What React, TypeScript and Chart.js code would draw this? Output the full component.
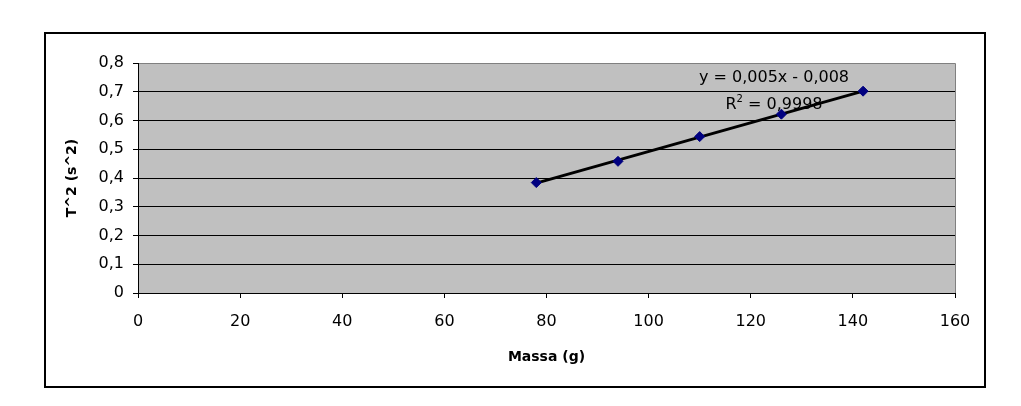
import React, { useEffect, useRef } from "react";
import { Chart, registerables } from "chart.js";

Chart.register(...registerables);

// Pendulum-style data: mass (g) against period squared (s^2)
const massa = [78, 94, 110, 126, 142];
const periodoQuadrado = [0.384, 0.458, 0.544, 0.622, 0.702];

// Axis tick labels (decimal comma)
const xTickLabels = ["0", "20", "40", "60", "80", "100", "120", "140", "160"];
const yTickLabels = ["0", "0,1", "0,2", "0,3", "0,4", "0,5", "0,6", "0,7", "0,8"];

// Linear trendline as printed on the chart
const trendSlope = 0.005;
const trendIntercept = -0.008;
const trendEquation = "y = 0,005x - 0,008";
const trendR2 = "0,9998";

const xTitle = "Massa (g)";
const yTitle = "T^2 (s^2)";

const FONT = "'DejaVu Sans', 'Liberation Sans', Arial, sans-serif";

const framePlugin = {
  id: "frameAndPlotArea",
  beforeDraw(chart: any) {
    const { ctx, chartArea } = chart;
    ctx.save();
    ctx.fillStyle = "#ffffff";
    ctx.fillRect(0, 0, chart.width, chart.height);
    // outer chart border
    ctx.strokeStyle = "#000000";
    ctx.lineWidth = 2;
    ctx.strokeRect(45, 33, 940, 354);
    // plot area fill and grey edge
    ctx.fillStyle = "#c0c0c0";
    ctx.fillRect(chartArea.left, chartArea.top, chartArea.right - chartArea.left, chartArea.bottom - chartArea.top);
    ctx.strokeStyle = "#808080";
    ctx.lineWidth = 1;
    ctx.beginPath();
    ctx.moveTo(chartArea.left, Math.round(chartArea.top) + 0.5);
    ctx.lineTo(Math.round(chartArea.right) + 0.5, Math.round(chartArea.top) + 0.5);
    ctx.lineTo(Math.round(chartArea.right) + 0.5, chartArea.bottom);
    ctx.stroke();
    ctx.restore();
  },
};

const trendLabelPlugin = {
  id: "trendLabel",
  beforeDatasetsDraw(chart: any) {
    const { ctx, chartArea } = chart;
    const cx = chartArea.right - 181;
    ctx.save();
    ctx.fillStyle = "#000000";
    ctx.textBaseline = "middle";
    ctx.font = `16px ${FONT}`;
    ctx.textAlign = "center";
    ctx.fillText(trendEquation, cx, chartArea.top + 15);

    // second line: R² = value, with a raised superscript
    const y2 = chartArea.top + 42;
    const rest = ` = ${trendR2}`;
    ctx.font = `16px ${FONT}`;
    const wR = ctx.measureText("R").width;
    const wRest = ctx.measureText(rest).width;
    ctx.font = `10px ${FONT}`;
    const wSup = ctx.measureText("2").width;
    let x = cx - (wR + wSup + wRest) / 2;
    ctx.textAlign = "left";
    ctx.font = `16px ${FONT}`;
    ctx.fillText("R", x, y2);
    x += wR;
    ctx.font = `10px ${FONT}`;
    ctx.fillText("2", x, y2 - 6);
    x += wSup;
    ctx.font = `16px ${FONT}`;
    ctx.fillText(rest, x, y2);
    ctx.restore();
  },
};

export default function App() {
  const canvasRef = useRef<HTMLCanvasElement | null>(null);

  useEffect(() => {
    if (!canvasRef.current) return;
    const xFirst = massa[0];
    const xLast = massa[massa.length - 1];
    const trendPoints = [
      { x: xFirst, y: trendSlope * xFirst + trendIntercept },
      { x: xLast, y: trendSlope * xLast + trendIntercept },
    ];

    const chart = new Chart(canvasRef.current, {
      type: "scatter",
      data: {
        datasets: [
          {
            label: "T^2",
            data: massa.map((m, i) => ({ x: m, y: periodoQuadrado[i] })),
            pointStyle: "rectRot",
            pointRadius: 5,
            backgroundColor: "#000080",
            borderColor: "#000080",
            borderWidth: 1,
            order: 0,
          },
          {
            type: "line",
            label: "Linear",
            data: trendPoints,
            borderColor: "#000000",
            borderWidth: 3,
            pointRadius: 0,
            fill: false,
            order: 1,
          } as any,
        ],
      },
      options: {
        responsive: false,
        animation: false,
        layout: { padding: { top: 63, right: 66, left: 0, bottom: 0 } },
        plugins: {
          legend: { display: false },
          tooltip: { enabled: false },
        },
        scales: {
          x: {
            type: "linear",
            min: 0,
            max: 160,
            afterFit: (s: any) => {
              s.height = 113;
            },
            ticks: {
              stepSize: 20,
              color: "#000000",
              font: { family: FONT, size: 16 },
              padding: 14,
              maxRotation: 0,
              callback: (_v: any, i: number) => xTickLabels[i],
            },
            grid: {
              drawOnChartArea: false,
              drawTicks: true,
              tickLength: 5,
              tickColor: "#000000",
            },
            border: { display: true, color: "#000000", width: 1 },
            title: {
              display: true,
              text: xTitle,
              color: "#000000",
              font: { family: FONT, size: 14, weight: "bold" },
              padding: { top: 0, bottom: 40 },
            },
          },
          y: {
            type: "linear",
            min: 0,
            max: 0.8,
            afterFit: (s: any) => {
              s.width = 138;
            },
            ticks: {
              stepSize: 0.1,
              color: "#000000",
              font: { family: FONT, size: 16 },
              padding: 9,
              callback: (_v: any, i: number) => yTickLabels[i],
            },
            grid: {
              color: (c: any) => (c.tick && c.tick.value > 0.79 ? "#808080" : "#000000"),
              lineWidth: 1,
              drawTicks: true,
              tickLength: 5,
              tickColor: "#000000",
            },
            border: { display: true, color: "#000000", width: 1 },
            title: {
              display: true,
              text: yTitle,
              color: "#000000",
              font: { family: FONT, size: 14, weight: "bold" },
              padding: { top: 64, bottom: 0 },
            },
          },
        },
      },
      plugins: [framePlugin, trendLabelPlugin],
    });

    return () => chart.destroy();
  }, []);

  return (
    <div style={{ position: "absolute", left: 0, top: 0, width: 1021, height: 406, background: "#ffffff" }}>
      <canvas ref={canvasRef} width={1021} height={406} style={{ display: "block" }} />
    </div>
  );
}
